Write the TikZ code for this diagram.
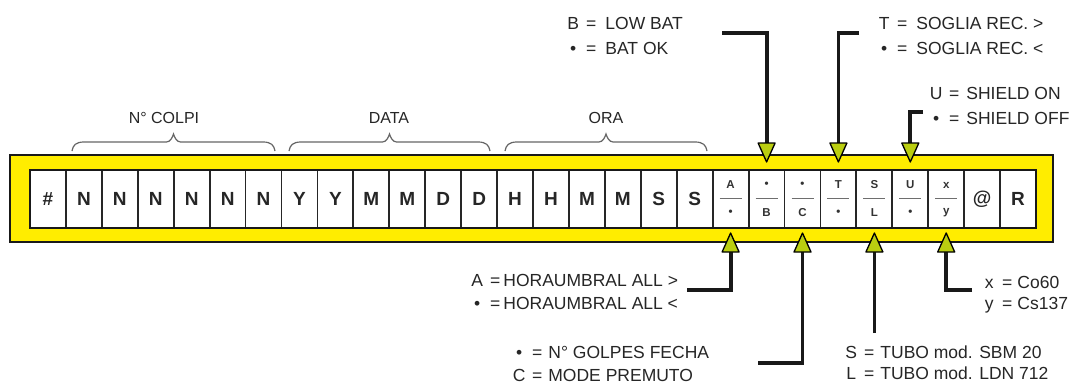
\documentclass[tikz,border=0pt]{standalone}
\usepackage{fontspec}
\setmainfont{Liberation Sans}
\definecolor{bandyellow}{RGB}{255,237,0}
\definecolor{arrowgreen}{RGB}{186,206,16}
\definecolor{txt}{RGB}{38,38,38}
\definecolor{rulegray}{RGB}{110,110,110}
\newcommand\eqline[3][9pt]{\makebox[20pt][c]{#2}\hspace{3pt}=\hspace{#1}#3}
\begin{document}
\begin{tikzpicture}[x=1pt,y=-1pt,
  band/.style={draw=black!90, line width=2.6pt, fill=bandyellow, minimum width=1043pt, minimum height=87pt, inner sep=0pt},
  strip/.style={draw=black!90, line width=2.4pt, minimum width=1006pt, minimum height=58pt, inner sep=0pt},
  cell/.style={draw=black!85, line width=1.8pt, fill=white, minimum width=35.93pt, minimum height=58pt, inner sep=0pt, text=black!85, font=\bfseries\fontsize{19}{19}\selectfont},
  small/.style={inner sep=0pt, text=black!80, font=\bfseries\fontsize{11.5}{11.5}\selectfont},
  fracrule/.style={draw=rulegray, line width=1.5pt},
  tri/.style={draw=black, line width=1.3pt, fill=arrowgreen, line join=round},
  conn/.style={draw=black!90, line width=3.8pt, line join=miter},
  lbl/.style={inner sep=0pt, anchor=west, text=txt, font=\fontsize{17.5}{17.5}\selectfont},
  brc/.style={draw=black!60, line width=1.2pt},
  brclbl/.style={inner sep=0pt, text=txt, font=\fontsize{16}{16}\selectfont}]
\useasboundingbox[fill=white] (0,0) rectangle (1074,386);

% yellow band and strip of cells
\node[band] (band) at (531.5,198.5) {};
\node[strip, fill=white] (stripbg) at (533,199) {};
\foreach \s [count=\i from 0] in {\#,N,N,N,N,N,N,Y,Y,M,M,D,D,H,H,M,M,S,S,{},{},{},{},{},{},{},@,R}
  \node[cell] (c\i) at ({30+(\i+0.5)*35.93},199) {\s};
\node[strip] (strip) at (533,199) {};

% fraction cells
\foreach \i/\t/\b in {19/A/\textbullet, 20/\textbullet/B, 21/\textbullet/C, 22/T/\textbullet, 23/S/L, 24/U/\textbullet, 25/x/y} {
  \node[small] (c\i t) at ([yshift=14pt]c\i.center) {\t};
  \node[small] (c\i b) at ([yshift=-14pt]c\i.center) {\b};
  \draw[fracrule] ([xshift=-11pt,yshift=0.5pt]c\i.center) -- ([xshift=11pt,yshift=0.5pt]c\i.center);
}

% braces
\foreach \a/\b in {72/275, 289/490, 505/707} {
  \draw[brc] (\a,151) .. controls (\a+1,145) and (\a+4,142) .. (\a+12,142)
    -- ({(\a+\b)/2-7},142) .. controls ({(\a+\b)/2-3},142) and ({(\a+\b)/2-1},137) .. ({(\a+\b)/2},134)
    .. controls ({(\a+\b)/2+1},137) and ({(\a+\b)/2+3},142) .. ({(\a+\b)/2+7},142)
    -- (\b-12,142) .. controls (\b-4,142) and (\b-1,145) .. (\b,151);
}
\node[brclbl] (lcolpi) at (164,118) {N° COLPI};
\node[brclbl] (ldata) at (389,118) {DATA};
\node[brclbl] (lora) at (606,118) {ORA};

% connector coordinates
\coordinate (tB) at (766.6,143);
\coordinate (tT) at (838.4,143);
\coordinate (tU) at (910.3,143);
\coordinate (tA) at (730.6,252);
\coordinate (tC) at (802.5,252);
\coordinate (tS) at (874.4,252);
\coordinate (tX) at (946.2,252);
\coordinate (bEnd) at (722,33);
\coordinate (tEnd) at (859,33);
\coordinate (uEnd) at (923,112);
\coordinate (aEnd) at (687,290);
\coordinate (cEnd) at (758,363);
\coordinate (sEnd) at (874.4,333);
\coordinate (xEnd) at (972,290);

\draw[conn] (bEnd) -| (tB);
\draw[conn] (tEnd) -| (tT);
\draw[conn] (uEnd) -| (tU);
\draw[conn] (aEnd) -| (tA);
\draw[conn] (cEnd) -| (tC);
\draw[conn] (sEnd) -- (tS);
\draw[conn] (xEnd) -| (tX);

% triangles
\foreach \p in {tB,tT,tU} {
  \draw[tri] ([xshift=-8.5pt]\p) -- ([xshift=8.5pt]\p) -- ([yshift=-19pt]\p) -- cycle;
}
\foreach \p in {tA,tC,tS,tX} {
  \draw[tri] ([xshift=-8.5pt]\p) -- ([xshift=8.5pt]\p) -- ([yshift=19pt]\p) -- cycle;
}

% labels
\node[lbl] (lb1) at (563,23) {\eqline{B}{LOW BAT}};
\node[lbl] (lb2) at (563,48) {\eqline{\textbullet}{BAT OK}};
\node[lbl] (lt1) at (874,23) {\eqline{T}{SOGLIA REC. >}};
\node[lbl] (lt2) at (874,48) {\eqline{\textbullet}{SOGLIA REC. <}};
\node[lbl] (lu1) at (926,93) {\eqline[7pt]{U}{SHIELD ON}};
\node[lbl] (lu2) at (926,118) {\eqline[7pt]{\textbullet}{SHIELD OFF}};
\node[lbl] (la1) at (467,280) {\eqline[3pt]{A}{HORAUMBRAL ALL >}};
\node[lbl] (la2) at (467,303) {\eqline[3pt]{\textbullet}{HORAUMBRAL ALL <}};
\node[lbl] (lc1) at (509,352) {\eqline[6pt]{\textbullet}{N° GOLPES FECHA}};
\node[lbl] (lc2) at (509,375) {\eqline[6pt]{C}{MODE PREMUTO}};
\node[lbl] (ls1) at (841,352) {\eqline[6pt]{S}{TUBO mod. SBM 20}};
\node[lbl] (ls2) at (841,373) {\eqline[6pt]{L}{TUBO mod. LDN 712}};
\node[lbl] (lx1) at (979,282) {\eqline[5pt]{x}{Co60}};
\node[lbl] (lx2) at (979,305) {\eqline[5pt]{y}{Cs137}};
\end{tikzpicture}
\end{document}
